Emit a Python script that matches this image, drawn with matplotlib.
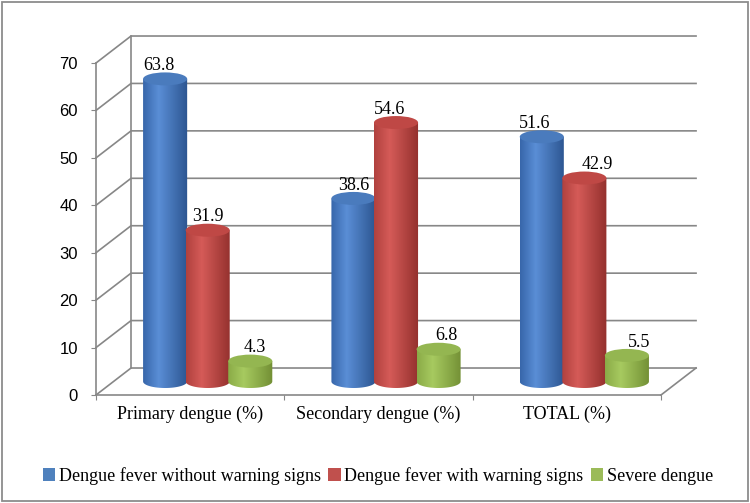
import numpy as np
import matplotlib.pyplot as plt
from matplotlib.patches import Ellipse, PathPatch, Rectangle, Patch
from matplotlib.path import Path
from matplotlib.colors import LinearSegmentedColormap

categories = ["Primary dengue (%)", "Secondary dengue (%)", "TOTAL (%)"]
series = ["Dengue fever without warning signs", "Dengue fever with warning signs", "Severe dengue"]
no_warning = [63.8, 38.6, 51.6]
with_warning = [31.9, 54.6, 42.9]
severe = [4.3, 6.8, 5.5]
y_ticks = [0, 10, 20, 30, 40, 50, 60, 70]

values = [no_warning, with_warning, severe]
legend_colors = ["#4F81BD", "#C0504D", "#9BBB59"]
# left edge, highlight, right edge, top cap
shades = [
    ("#3766aa", "#5a8ed6", "#2c5590", "#4a7bbd"),
    ("#b0413e", "#d55b58", "#93302d", "#bf4845"),
    ("#8aab47", "#a7ca60", "#728f34", "#94b651"),
]
# label nudges in pixels (Excel places them a bit off-centre)
label_dx = [[-6, 0, 5], [0, -6, 8], [-7, 13, 12]]

grid_c = "#878787"
DX, DY = 0.186, 5.69      # depth of the 3d box (x in categories, y in values)
W, EH = 0.234, 2.74       # cylinder width and cap height
step = 0.226              # spacing of cylinders in a group

fig = plt.figure(figsize=(7.5, 5.03), dpi=100)
ax = fig.add_axes([96 / 750, 108 / 503, 565 / 750, 332 / 503])
ax.set_facecolor("none")

# back wall + floor
for v in y_ticks:
    ax.plot([0, DX, 3 + DX], [v, v + DY, v + DY], color=grid_c, lw=1.2,
            clip_on=False, zorder=1)
ax.plot([DX, DX], [DY, y_ticks[-1] + DY], color=grid_c, lw=1.2, clip_on=False, zorder=1)
ax.plot([3, 3 + DX], [0, DY], color=grid_c, lw=1.2, clip_on=False, zorder=1)

t = np.linspace(np.pi, 2 * np.pi, 40)
grad = np.linspace(0, 1, 256).reshape(1, -1)
z = 3
for c in range(len(categories)):
    for s in range(len(series)):
        v = values[s][c]
        xc = c + 0.5 + DX / 2 + (s - 1) * step
        yb = DY / 2
        yt = yb + v
        xl, xr = xc - W / 2, xc + W / 2
        verts = [(xl, yt), (xl, yb)]
        verts += list(zip(xc + W / 2 * np.cos(t), yb + EH / 2 * np.sin(t)))
        verts += [(xr, yb), (xr, yt), (xl, yt)]
        body = PathPatch(Path(verts), transform=ax.transData, fc="none", ec="none")
        left, hi, right, top = shades[s]
        cmap = LinearSegmentedColormap.from_list("cyl", [(0, left), (0.35, hi), (1, right)])
        im = ax.imshow(grad, cmap=cmap, extent=[xl, xr, yb - EH / 2, yt],
                       aspect="auto", interpolation="bilinear", zorder=z)
        im.set_clip_path(body)
        ax.add_patch(Ellipse((xc, yt), W, EH, fc=top, ec="none", zorder=z + 0.1))
        ax.annotate(f"{v}", (xc, yt + EH / 2 + 0.5), xytext=(label_dx[c][s], 0),
                    textcoords="offset pixels", ha="center", va="baseline",
                    fontsize=13, family="Liberation Serif", zorder=20)
        z += 0.5

ax.set_xlim(0, 3)
ax.set_ylim(0, 70)
for side in ["top", "right"]:
    ax.spines[side].set_visible(False)
for side in ["left", "bottom"]:
    ax.spines[side].set_color(grid_c)
    ax.spines[side].set_linewidth(1.2)

ax.set_yticks(y_ticks)
ax.set_yticklabels([str(v) for v in y_ticks], family="Liberation Sans", fontsize=12)
ax.tick_params(axis="y", length=3.5, color=grid_c, pad=9.5)
ax.set_xticks([0, 1, 2, 3])
ax.set_xticklabels([])
ax.tick_params(axis="x", which="major", length=3.5, color=grid_c)
ax.set_xticks([0.5, 1.5, 2.5], minor=True)
ax.set_xticklabels(categories, minor=True, family="Liberation Serif", fontsize=13)
ax.tick_params(axis="x", which="minor", length=0, pad=8)

handles = [Patch(fc=col, ec="none") for col in legend_colors]
fig.legend(handles, series, loc="center", bbox_to_anchor=(0.504, 0.054), ncol=3,
           frameon=False, handlelength=0.7, handleheight=0.7, handletextpad=0.2,
           columnspacing=0.4, prop={"family": "Liberation Serif", "size": 13})

fig.patches.append(Rectangle((2 / 750, 2 / 503), 746 / 750, 499 / 503,
                             transform=fig.transFigure, fill=False, ec="#8c8c8c", lw=1.3))

fig.savefig("out.png", dpi=100)
